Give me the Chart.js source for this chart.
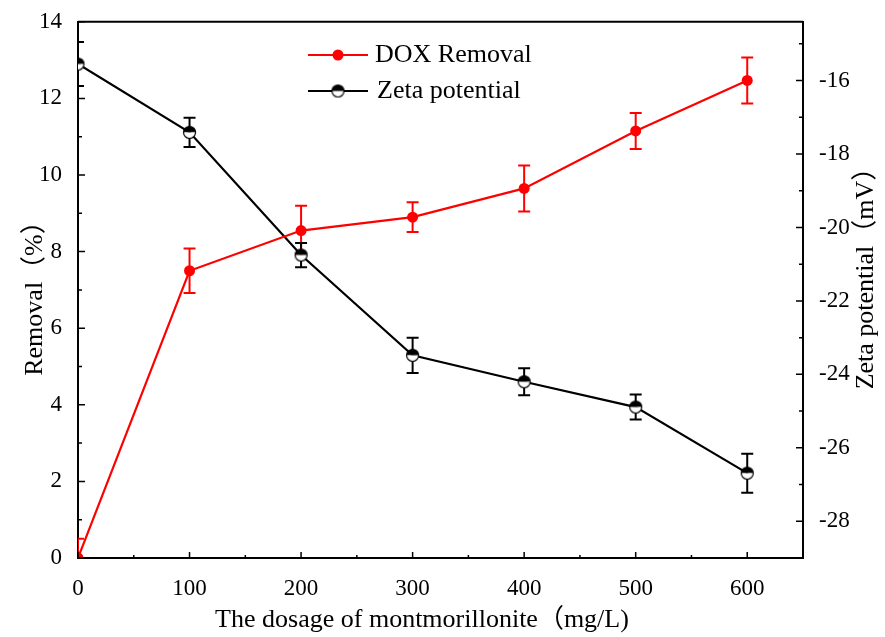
<!DOCTYPE html>
<html>
<head>
<meta charset="utf-8">
<script src="https://cdn.jsdelivr.net/npm/chart.js@4.4.0/dist/chart.umd.min.js"></script>
<style>
  html, body { margin: 0; padding: 0; background: #fff; }
</style>
</head>
<body>
<canvas id="grafica" width="885" height="637"></canvas>
<script>
"use strict";

// datos
const dosage = [0, 100, 200, 300, 400, 500, 600];
const removal = [0, 7.5, 8.55, 8.9, 9.65, 11.15, 12.47];
const removalErr = [0.5, 0.58, 0.65, 0.39, 0.6, 0.47, 0.6];
const zeta = [-15.55, -17.41, -20.75, -23.48, -24.2, -24.89, -26.69];
const zetaErr = [0.6, 0.4, 0.33, 0.48, 0.37, 0.34, 0.53];

const xTicks = [0, 100, 200, 300, 400, 500, 600];
const leftTicks = [0, 2, 4, 6, 8, 10, 12, 14];
const rightTicks = [-28, -26, -24, -22, -20, -18, -16];

const serif = '"Liberation Serif", "Times New Roman", "Noto Sans CJK SC", serif';

// marcador medio lleno (arriba negro, abajo blanco)
function halfMarker() {
    const c = document.createElement('canvas');
    c.width = 15; c.height = 15;
    const g = c.getContext('2d');
    g.beginPath(); g.arc(7.5, 7.5, 6, Math.PI, 0); g.closePath();
    g.fillStyle = '#000'; g.fill();
    g.beginPath(); g.arc(7.5, 7.5, 6, 0, Math.PI); g.closePath();
    g.fillStyle = '#fff'; g.fill();
    g.beginPath(); g.arc(7.5, 7.5, 6, 0, 2 * Math.PI);
    g.lineWidth = 1.2; g.strokeStyle = '#000'; g.stroke();
    return c;
}
const zetaMarker = halfMarker();

const errorBars = {
    id: 'errorBars',
    beforeDatasetsDraw(chart) {
        const ctx = chart.ctx;
        const a = chart.chartArea;
        const sets = [[removal, removalErr, 'y', '#ff0000'], [zeta, zetaErr, 'y2', '#000']];
        ctx.save();
        ctx.beginPath();
        ctx.rect(a.left, a.top, a.right - a.left, a.bottom - a.top);
        ctx.clip();
        ctx.lineWidth = 2;
        sets.forEach(function (s) {
            const ys = chart.scales[s[2]];
            ctx.strokeStyle = s[3];
            dosage.forEach(function (d, i) {
                const x = chart.scales.x.getPixelForValue(d);
                const y1 = ys.getPixelForValue(s[0][i] + s[1][i]);
                const y2 = ys.getPixelForValue(s[0][i] - s[1][i]);
                ctx.beginPath();
                ctx.moveTo(x, y1); ctx.lineTo(x, y2);
                ctx.moveTo(x - 6, y1); ctx.lineTo(x + 6, y1);
                ctx.moveTo(x - 6, y2); ctx.lineTo(x + 6, y2);
                ctx.stroke();
            });
        });
        ctx.restore();
    }
};

// marco, ticks hacia dentro, titulos y leyenda
const decor = {
    id: 'decor',
    afterDraw(chart) {
        const ctx = chart.ctx;
        const a = chart.chartArea;
        const sx = chart.scales.x, sy = chart.scales.y, sy2 = chart.scales.y2;
        ctx.save();
        ctx.strokeStyle = '#000';
        ctx.lineWidth = 2;
        ctx.beginPath();
        ctx.moveTo(a.left, a.top); ctx.lineTo(a.right, a.top);
        ctx.stroke();

        ctx.lineWidth = 1.5;
        ctx.beginPath();
        for (let v = 0; v <= 650; v += 50) {
            const x = sx.getPixelForValue(v);
            const len = v % 100 === 0 ? 6 : 3;
            ctx.moveTo(x, a.bottom); ctx.lineTo(x, a.bottom - len);
        }
        for (let v = 0; v <= 14; v += 1) {
            const y = sy.getPixelForValue(v);
            const len = v % 2 === 0 ? 7 : 4;
            ctx.moveTo(a.left, y); ctx.lineTo(a.left + len, y);
        }
        for (let v = -29; v <= -15; v += 1) {
            const y = sy2.getPixelForValue(v);
            const len = v % 2 === 0 ? 7 : 4;
            ctx.moveTo(a.right, y); ctx.lineTo(a.right - len, y);
        }
        ctx.stroke();

        // titulos de ejes
        ctx.fillStyle = '#000';
        ctx.font = '26px ' + serif;
        ctx.textAlign = 'center';
        ctx.textBaseline = 'middle';
        ctx.fillText('The dosage of montmorillonite（mg/L)', 422, 620);
        ctx.save();
        ctx.translate(35, 292); ctx.rotate(-Math.PI / 2);
        ctx.fillText('Removal（%）', 0, 0);
        ctx.restore();
        ctx.save();
        ctx.translate(866, 272); ctx.rotate(-Math.PI / 2);
        ctx.fillText('Zeta potential（mV）', 0, 0);
        ctx.restore();

        // leyenda
        ctx.lineWidth = 2;
        ctx.strokeStyle = '#ff0000';
        ctx.beginPath(); ctx.moveTo(308, 55); ctx.lineTo(368, 55); ctx.stroke();
        ctx.fillStyle = '#ff0000';
        ctx.beginPath(); ctx.arc(338, 55, 5.5, 0, 2 * Math.PI); ctx.fill();
        ctx.strokeStyle = '#000';
        ctx.beginPath(); ctx.moveTo(308, 91); ctx.lineTo(368, 91); ctx.stroke();
        ctx.drawImage(zetaMarker, 338 - 7.5, 91 - 7.5);
        ctx.fillStyle = '#000';
        ctx.textAlign = 'left';
        ctx.fillText('DOX Removal', 375, 55);
        ctx.fillText('Zeta potential', 377, 91);
        ctx.restore();
    }
};

function fixTicks(list) {
    return function (scale) {
        scale.ticks = list.map(function (v) { return { value: v }; });
    };
}

new Chart(document.getElementById('grafica').getContext('2d'), {
    type: 'line',
    data: {
        labels: dosage,
        datasets: [{
            label: 'DOX Removal',
            data: dosage.map(function (d, i) { return { x: d, y: removal[i] }; }),
            yAxisID: 'y',
            borderColor: '#ff0000',
            backgroundColor: '#ff0000',
            borderWidth: 2.2,
            pointRadius: 5.5,
            pointBorderWidth: 0,
            clip: 0
        }, {
            label: 'Zeta potential',
            data: dosage.map(function (d, i) { return { x: d, y: zeta[i] }; }),
            yAxisID: 'y2',
            borderColor: '#000',
            backgroundColor: '#000',
            borderWidth: 2.2,
            pointStyle: zetaMarker,
            clip: 0
        }]
    },
    options: {
        responsive: false,
        animation: false,
        events: [],
        layout: { padding: { top: 17 } },
        plugins: { legend: { display: false }, tooltip: { enabled: false } },
        scales: {
            x: {
                type: 'linear', min: 0, max: 650,
                afterBuildTicks: fixTicks(xTicks),
                afterFit: function (s) { s.height = 79; },
                grid: { display: false },
                border: { color: '#000', width: 2 },
                ticks: { color: '#000', padding: 9, maxRotation: 0, font: { family: serif, size: 23 } }
            },
            y: {
                position: 'left', min: 0, max: 14,
                afterBuildTicks: fixTicks(leftTicks),
                afterFit: function (s) { s.width = 78; },
                grid: { display: false },
                border: { color: '#000', width: 2 },
                ticks: { color: '#000', padding: 8, font: { family: serif, size: 23 } }
            },
            y2: {
                position: 'right', min: -29, max: -14.4,
                afterBuildTicks: fixTicks(rightTicks),
                afterFit: function (s) { s.width = 82; },
                grid: { display: false },
                border: { color: '#000', width: 2 },
                ticks: { color: '#000', padding: 8, font: { family: serif, size: 23 } }
            }
        }
    },
    plugins: [errorBars, decor]
});
</script>
</body>
</html>
